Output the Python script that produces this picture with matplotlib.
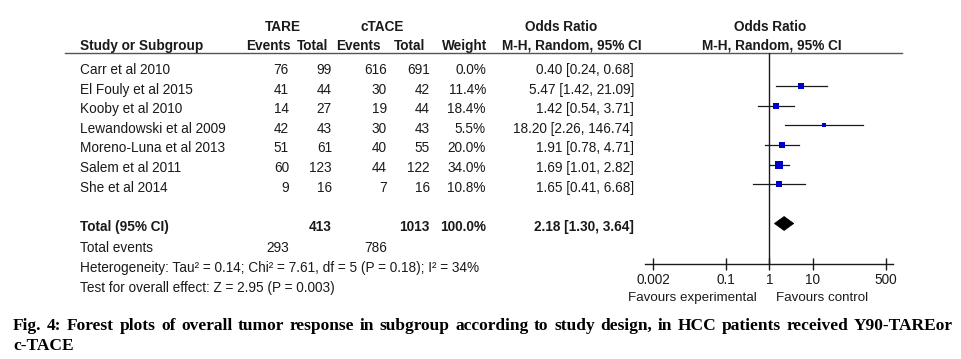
"""Forest plot: overall tumour response, Y90-TARE vs c-TACE."""

import numpy as np
import matplotlib

matplotlib.use("Agg")
import matplotlib.pyplot as plt
from matplotlib.patches import Polygon

plt.rcParams["font.family"] = ["Liberation Sans", "DejaVu Sans"]

# --- data -----------------------------------------------------------------
STUDIES = [
    "Carr et al 2010",
    "El Fouly et al 2015",
    "Kooby et al 2010",
    "Lewandowski et al 2009",
    "Moreno-Luna et al 2013",
    "Salem et al 2011",
    "She et al 2014",
]
TARE_EVENTS = [76, 41, 14, 42, 51, 60, 9]
TARE_TOTAL = [99, 44, 27, 43, 61, 123, 16]
CTACE_EVENTS = [616, 30, 19, 30, 40, 44, 7]
CTACE_TOTAL = [691, 42, 44, 43, 55, 122, 16]
WEIGHTS = [0.0, 11.4, 18.4, 5.5, 20.0, 34.0, 10.8]
ODDS = [0.40, 5.47, 1.42, 18.20, 1.91, 1.69, 1.65]
CI_LOW = [0.24, 1.42, 0.54, 2.26, 0.78, 1.01, 0.41]
CI_HIGH = [0.68, 21.09, 3.71, 146.74, 4.71, 2.82, 6.68]

TOTAL_TARE = 413
TOTAL_CTACE = 1013
TOTAL_WEIGHT = 100.0
POOLED_OR = 2.18
POOLED_LOW = 1.30
POOLED_HIGH = 3.64
EVENTS_TARE = 293
EVENTS_CTACE = 786

HETEROGENEITY = "Heterogeneity: Tau\u00b2 = 0.14; Chi\u00b2 = 7.61, df = 5 (P = 0.18); I\u00b2 = 34%"
OVERALL_EFFECT = "Test for overall effect: Z = 2.95 (P = 0.003)"
AXIS_TICKS = [0.002, 0.1, 1, 10, 500]
AXIS_TICK_LABELS = ["0.002", "0.1", "1", "10", "500"]

CAPTION_LINE1 = ("Fig. 4: Forest plots of overall tumor response in subgroup according "
                 "to study design, in HCC patients received Y90-TAREor")
CAPTION_LINE2 = "c-TACE"

# --- layout (pixels) ------------------------------------------------------
W, H = 962, 359
INK = "#1a1a1a"
FS = 9.8
ROW0, ROW_STEP = 70, 19.6
Y_TOTAL, Y_EVENTS, Y_HET, Y_TEST = 227, 247.5, 268, 288
MARK_SHIFT = -3.5

X_NAME = 80
X_TARE_EV, X_TARE_TOT = 289, 332
X_CT_EV, X_CT_TOT = 387, 430
X_WEIGHT, X_OR = 486, 634

# forest axis: px of tick 0.002 and 500
PX_LO, PX_HI = 653, 886
AX_LEFT, AX_RIGHT = 645, 893
AX_TOP, AX_BOTTOM = 52.5, 264


def main() -> None:
    fig = plt.figure(figsize=(W / 100, H / 100), dpi=100)
    ax = fig.add_axes([0, 0, 1, 1])
    ax.set_xlim(0, W)
    ax.set_ylim(H, 0)
    ax.axis("off")

    def txt(x, y, s, ha="left", bold=False, size=FS):
        ax.text(x, y, s, ha=ha, va="center", fontsize=size, color=INK,
                fontweight="bold" if bold else "normal")

    # headers
    txt(283, 27, "TARE", "center", True)
    txt(382, 27, "cTACE", "center", True)
    txt(561, 27, "Odds Ratio", "center", True)
    txt(770, 27, "Odds Ratio", "center", True)
    txt(X_NAME, 46, "Study or Subgroup", bold=True)
    txt(268, 46, "Events", "center", True)
    txt(313, 46, "Total", "center", True)
    txt(358, 46, "Events", "center", True)
    txt(410, 46, "Total", "center", True)
    txt(465, 46, "Weight", "center", True)
    txt(572, 46, "M-H, Random, 95% CI", "center", True)
    txt(772, 46, "M-H, Random, 95% CI", "center", True)
    ax.plot([65, 902], [AX_TOP, AX_TOP], color="#555555", lw=1.0)

    rows = [ROW0 + i * ROW_STEP for i in range(len(STUDIES))]
    for i, y in enumerate(rows):
        txt(X_NAME, y, STUDIES[i])
        txt(X_TARE_EV, y, str(TARE_EVENTS[i]), "right")
        txt(X_TARE_TOT, y, str(TARE_TOTAL[i]), "right")
        txt(X_CT_EV, y, str(CTACE_EVENTS[i]), "right")
        txt(X_CT_TOT, y, str(CTACE_TOTAL[i]), "right")
        txt(X_WEIGHT, y, f"{WEIGHTS[i]:.1f}%", "right")
        txt(X_OR, y, f"{ODDS[i]:.2f} [{CI_LOW[i]:.2f}, {CI_HIGH[i]:.2f}]", "right")

    txt(X_NAME, Y_TOTAL, "Total (95% CI)", bold=True)
    txt(X_TARE_TOT, Y_TOTAL, str(TOTAL_TARE), "right", True)
    txt(X_CT_TOT, Y_TOTAL, str(TOTAL_CTACE), "right", True)
    txt(X_WEIGHT, Y_TOTAL, f"{TOTAL_WEIGHT:.1f}%", "right", True)
    txt(X_OR, Y_TOTAL, f"{POOLED_OR:.2f} [{POOLED_LOW:.2f}, {POOLED_HIGH:.2f}]", "right", True)
    txt(X_NAME, Y_EVENTS, "Total events")
    txt(X_TARE_EV, Y_EVENTS, str(EVENTS_TARE), "right")
    txt(X_CT_EV, Y_EVENTS, str(EVENTS_CTACE), "right")
    txt(X_NAME, Y_HET, HETEROGENEITY)
    txt(X_NAME, Y_TEST, OVERALL_EFFECT)

    txt(692, 298, "Favours experimental", "center", size=9.6)
    txt(822, 298, "Favours control", "center", size=9.6)

    # forest axes
    decade = (PX_HI - PX_LO) / np.log10(AXIS_TICKS[-1] / AXIS_TICKS[0])
    lo = AXIS_TICKS[0] * 10 ** (-(PX_LO - AX_LEFT) / decade)
    hi = AXIS_TICKS[-1] * 10 ** ((AX_RIGHT - PX_HI) / decade)
    fx = fig.add_axes([AX_LEFT / W, (H - AX_BOTTOM) / H,
                       (AX_RIGHT - AX_LEFT) / W, (AX_BOTTOM - AX_TOP) / H])
    fx.set_xscale("log")
    fx.set_xlim(lo, hi)
    fx.set_ylim(AX_BOTTOM, AX_TOP)
    fx.patch.set_alpha(0)
    for side in ("top", "right", "left"):
        fx.spines[side].set_visible(False)
    fx.spines["bottom"].set_color(INK)
    fx.spines["bottom"].set_linewidth(1.0)
    fx.set_yticks([])
    fx.set_xticks(AXIS_TICKS)
    fx.set_xticklabels(AXIS_TICK_LABELS)
    fx.xaxis.set_minor_locator(matplotlib.ticker.NullLocator())
    fx.tick_params(axis="x", direction="inout", length=8.5, width=1.0,
                   color=INK, labelcolor=INK, labelsize=FS, pad=2.5)
    fx.axvline(1, color=INK, lw=1.0)

    for i, y in enumerate(rows):
        if WEIGHTS[i] <= 0:
            continue
        ym = y + MARK_SHIFT
        fx.plot([CI_LOW[i], CI_HIGH[i]], [ym, ym], color=INK, lw=0.9)
        fx.plot(ODDS[i], ym, marker="s", linestyle="none", color="#0000c8",
                markersize=0.8 * np.sqrt(WEIGHTS[i]) + 1.0, markeredgewidth=0)

    yd = Y_TOTAL + MARK_SHIFT
    fx.add_patch(Polygon([[POOLED_LOW, yd], [POOLED_OR, yd - 7],
                          [POOLED_HIGH, yd], [POOLED_OR, yd + 7]],
                         closed=True, facecolor="black", edgecolor="black", lw=0.5))

    # caption, first line justified
    cap_font = dict(family=["Liberation Serif", "DejaVu Serif"], fontweight="bold",
                    fontsize=12.5, color="black", va="center")
    renderer = fig.canvas.get_renderer()
    words = CAPTION_LINE1.split()
    objs = [ax.text(0, 326, w, ha="left", **cap_font) for w in words]
    widths = [o.get_window_extent(renderer).width for o in objs]
    left, right = 13, 953
    gap = (right - left - sum(widths)) / (len(words) - 1)
    x = left
    for o, wdt in zip(objs, widths):
        o.set_x(x)
        x += wdt + gap
    ax.text(left, 346, CAPTION_LINE2, ha="left", **cap_font)

    fig.savefig("out.png", dpi=100)
    plt.close(fig)


if __name__ == "__main__":
    main()
